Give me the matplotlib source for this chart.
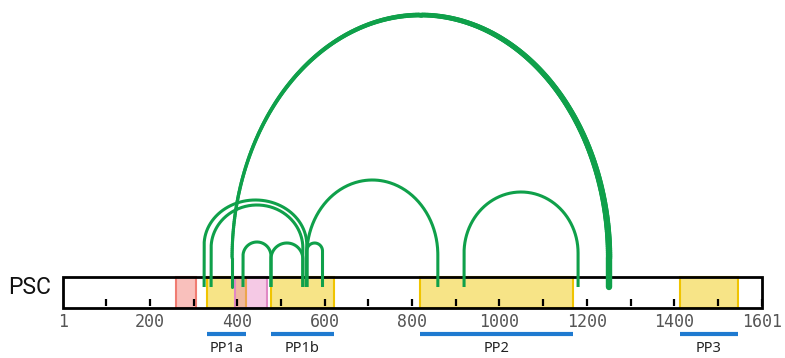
import numpy as np
import matplotlib
matplotlib.use("Agg")
import matplotlib.pyplot as plt
from matplotlib.patches import Rectangle
from matplotlib.collections import LineCollection

###############################################################
# Data (residue positions, heights in px above the bar bottom)
###############################################################
protein_name = "PSC"
protein_length = 1601

tick_label_positions = [1, 200, 400, 600, 800, 1000, 1200, 1400, 1601]
minor_tick_positions = list(range(100, 1601, 100))

# yellow domains = PP regions
pp_names = ["PP1a", "PP1b", "PP2", "PP3"]
pp_starts = [330, 477, 818, 1413]
pp_ends = [420, 621, 1168, 1546]

red_domain = (260, 305)
pink_domain = (394, 467)

# arcs: start, end, top height, height where the straight legs stop
arc_starts = [324, 340, 413, 477, 559, 559, 919]
arc_ends = [559, 550, 477, 550, 595, 859, 1180]
arc_tops = [108, 103, 66, 65, 65, 128, 116]
arc_legs = [63, 60, 52, 49, 57, 53, 55]

# the long arc, drawn thicker towards its right end
long_arc = (388, 1251)
long_arc_top = 293
long_arc_leg = 50

###############################################################
# Style
###############################################################
green = "#0fa04a"
box_h = 31
arc_base = 21

s = 699.0 / 1600.0  # px per residue
fig = plt.figure(figsize=(7.85, 3.58), dpi=100)
ax = fig.add_axes([0, 0, 1, 1])
ax.set_xlim(1 - 63 / s, 1601 + 23 / s)
ax.set_ylim(-50, 308)
ax.axis("off")


def arc_path(x0, x1, top, leg, n=200):
    c = (x0 + x1) / 2.0
    a = (x1 - x0) / 2.0
    t = np.linspace(np.pi, 0, n)
    xs = np.concatenate([[x0], c + a * np.cos(t), [x1]])
    ys = np.concatenate([[arc_base], leg + (top - leg) * np.sin(t), [arc_base]])
    return xs, ys


# domains
ax.add_patch(Rectangle((red_domain[0], 0), red_domain[1] - red_domain[0], box_h,
                       facecolor=(0.94, 0.39, 0.35, 0.4), edgecolor="#f07c72", lw=1.5, zorder=1))
for st, en in zip(pp_starts, pp_ends):
    ax.add_patch(Rectangle((st, 0), en - st, box_h,
                           facecolor=(0.94, 0.78, 0.0, 0.47), edgecolor="#f0c400", lw=1.5, zorder=1))
ax.add_patch(Rectangle((pink_domain[0], 0), pink_domain[1] - pink_domain[0], box_h,
                       facecolor=(0.9, 0.47, 0.75, 0.4), edgecolor="#e088c4", lw=1.5, zorder=1.5))

# protein box
ax.add_patch(Rectangle((1, 0), protein_length - 1, box_h, fill=False,
                       edgecolor="black", lw=2.0, zorder=2))
ax.vlines(minor_tick_positions, 2, 9, color="black", lw=1.6, zorder=3)

for p in tick_label_positions:
    ax.text(p, -14, str(p), ha="center", va="center", fontsize=12,
            family="DejaVu Sans Mono", color="#555555")

ax.annotate(protein_name, xy=(1, box_h / 2 + 5), xytext=(-9, 0), textcoords="offset points",
            ha="right", va="center", fontsize=16.5,
            family="Roboto", color="#111111")

# PP bars
ax.hlines([-26.3] * len(pp_starts), pp_starts, pp_ends, color="#1f7ad0", lw=3.0, zorder=3)
for name, st, en in zip(pp_names, pp_starts, pp_ends):
    ax.text((st + en) / 2.0, -40, name, ha="center", va="center", fontsize=10.5,
            family="Noto Sans", color="#222222")

# arcs
for x0, x1, top, leg in zip(arc_starts, arc_ends, arc_tops, arc_legs):
    xs, ys = arc_path(x0, x1, top, leg)
    ax.plot(xs, ys, color=green, lw=2.2, solid_capstyle="butt", zorder=4)

xs, ys = arc_path(long_arc[0], long_arc[1], long_arc_top, long_arc_leg, n=400)
pts = np.column_stack([xs, ys]).reshape(-1, 1, 2)
segs = np.concatenate([pts[:-1], pts[1:]], axis=1)
widths = np.linspace(2.2, 4.6, len(segs))
ax.add_collection(LineCollection(segs, linewidths=widths, colors=green,
                                 capstyle="round", zorder=4))

fig.savefig("out.png", dpi=100)
